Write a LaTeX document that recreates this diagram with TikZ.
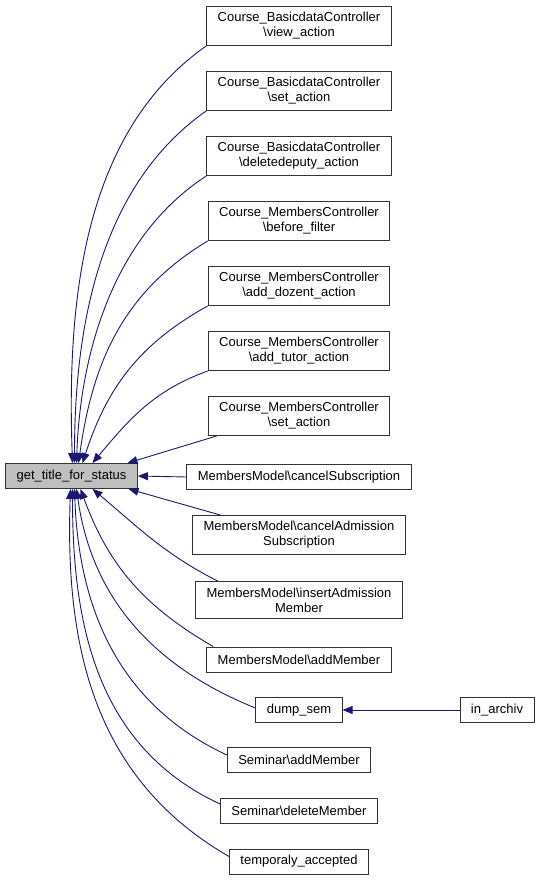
\documentclass[tikz,border=0pt]{standalone}
\usepackage{fontspec}
\setmainfont{Liberation Sans}
\usetikzlibrary{calc, arrows.meta}
\definecolor{edgeblue}{RGB}{25,25,112}

\begin{document}
\begin{tikzpicture}[
  x=1pt, y=1pt,
  font=\fontsize{13}{15}\selectfont,
  func/.style = {draw=black!80, fill=white, align=center, line width=0.9pt,
                 inner xsep=11pt, inner ysep=6pt, minimum height=25pt},
  root/.style = {func, fill=black!25},
  call/.style = {draw=edgeblue, line width=0.9pt, -{Triangle[length=10pt, width=8pt]}},
]
  \useasboundingbox (0,0) rectangle (540,-881);

  % the function and its callers
  \node[root] (main) at (71.5,-476) {get\_title\_for\_status};

  \node[func] (c1)  at (299,-26)  {Course\_BasicdataController\\\textbackslash view\_action};
  \node[func] (c2)  at (299,-91)  {Course\_BasicdataController\\\textbackslash set\_action};
  \node[func] (c3)  at (299,-156) {Course\_BasicdataController\\\textbackslash deletedeputy\_action};
  \node[func] (c4)  at (299,-221) {Course\_MembersController\\\textbackslash before\_filter};
  \node[func] (c5)  at (299,-286) {Course\_MembersController\\\textbackslash add\_dozent\_action};
  \node[func] (c6)  at (299,-351) {Course\_MembersController\\\textbackslash add\_tutor\_action};
  \node[func] (c7)  at (299,-416) {Course\_MembersController\\\textbackslash set\_action};
  \node[func] (c8)  at (299,-477) {MembersModel\textbackslash cancelSubscription};
  \node[func] (c9)  at (299,-535) {MembersModel\textbackslash cancelAdmission\\Subscription};
  \node[func] (c10) at (299,-600) {MembersModel\textbackslash insertAdmission\\Member};
  \node[func] (c11) at (299,-659.5) {MembersModel\textbackslash addMember};
  \node[func] (c12) at (299,-710) {dump\_sem};
  \node[func] (c13) at (497,-710) {in\_archiv};
  \node[func] (c14) at (299,-760) {Seminar\textbackslash addMember};
  \node[func] (c15) at (299,-811) {Seminar\textbackslash deleteMember};
  \node[func] (c16) at (299,-861.5) {temporaly\_accepted};

  % calls from above
  \draw[call] (c1.south west) to[out=215, in=92, looseness=0.9] ($(main.north)+(1,0)$);
  \draw[call] (c2.south west) to[out=215, in=90, looseness=0.9] ($(main.north)+(3,0)$);
  \draw[call] (c3.south west) to[out=213, in=88, looseness=0.9] ($(main.north)+(5,0)$);
  \draw[call] (c4.south west) to[out=211, in=82] ($(main.north)+(7,0)$);
  \draw[call] (c5.south west) to[out=209, in=72] ($(main.north)+(11,0)$);
  \draw[call] (c6.south west) to[out=200, in=50] ($(main.north)+(21,0)$);
  \draw[call] ($(c7.south west)+(9,0)$) -- ($(main.north)+(56,0)$);

  \draw[call] (c8.west) -- (main.east);

  % calls from below
  \draw[call] ($(c9.north west)+(28,0)$) -- ($(main.south)+(57,0)$);
  \draw[call] ($(c10.north west)+(23,0)$) to[out=153, in=-40] ($(main.south)+(21,0)$);
  \draw[call] ($(c11.north west)+(7,0)$) to[out=150, in=-70] ($(main.south)+(9,0)$);
  \draw[call] ($(c12.west)+(0,2)$) to[out=158, in=-82] ($(main.south)+(5,0)$);
  \draw[call] ($(c14.west)+(0,5)$) to[out=155, in=-88] ($(main.south)+(3,0)$);
  \draw[call] ($(c15.west)+(0,7)$) to[out=155, in=-90] ($(main.south)+(1,0)$);
  \draw[call] ($(c16.west)+(0,5)$) to[out=150, in=-92] ($(main.south)+(-1,0)$);

  \draw[call] (c13.west) -- (c12.east);
\end{tikzpicture}
\end{document}
